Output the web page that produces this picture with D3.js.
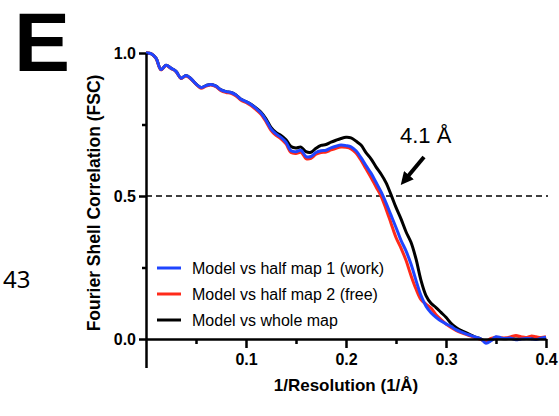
<!DOCTYPE html>
<html>
<head>
<meta charset="utf-8">
<script src="https://cdn.jsdelivr.net/npm/d3@7"></script>
<style>
  body { margin: 0; background: #fff; }
  text { font-family: "Liberation Sans", Arial, sans-serif; }
  .axis path, .axis line { stroke: #000; stroke-width: 2.5; }
  .axis text { font-size: 16px; font-weight: bold; fill: #000; }
</style>
</head>
<body>
<div id="chart"></div>
<script>
// 1/Resolution sample points (1/Å)
let resolution = [0.000,0.005,0.010,0.015,0.020,0.025,0.030,0.035,0.040,0.045,
  0.050,0.055,0.060,0.065,0.070,0.075,0.080,0.085,0.090,0.095,
  0.100,0.105,0.110,0.115,0.120,0.125,0.130,0.135,0.140,0.145,
  0.150,0.155,0.160,0.165,0.170,0.175,0.180,0.185,0.190,0.195,
  0.200,0.205,0.210,0.215,0.220,0.225,0.230,0.235,0.240,0.245,
  0.250,0.255,0.260,0.265,0.270,0.275,0.280,0.285,0.290,0.295,
  0.300,0.305,0.310,0.315,0.320,0.325,0.330,0.335,0.340,0.345,
  0.350,0.355,0.360,0.365,0.370,0.375,0.380,0.385,0.390,0.395,0.400];

// model vs half map 1 (work)
let halfMap1 = [1.000,0.998,0.982,0.942,0.957,0.947,0.936,0.912,0.921,0.910,
  0.892,0.879,0.886,0.890,0.884,0.871,0.865,0.862,0.853,0.838,
  0.830,0.820,0.806,0.790,0.765,0.735,0.717,0.705,0.688,0.658,
  0.655,0.660,0.638,0.638,0.652,0.658,0.660,0.668,0.674,0.678,
  0.676,0.672,0.658,0.634,0.606,0.580,0.548,0.515,0.476,0.433,
  0.390,0.345,0.308,0.262,0.205,0.152,0.115,0.092,0.076,0.063,
  0.053,0.044,0.033,0.025,0.018,0.012,0.006,0.000,-0.015,-0.006,
  0.008,0.004,0.002,0.003,-0.003,0.000,0.002,0.001,-0.002,0.003,0.006];

// model vs half map 2 (free)
let halfMap2 = [1.000,0.998,0.981,0.941,0.956,0.946,0.935,0.911,0.920,0.909,
  0.891,0.877,0.884,0.888,0.882,0.868,0.862,0.859,0.850,0.835,
  0.827,0.816,0.802,0.786,0.760,0.730,0.712,0.700,0.682,0.652,
  0.649,0.653,0.631,0.632,0.646,0.652,0.654,0.661,0.667,0.671,
  0.670,0.665,0.650,0.625,0.595,0.565,0.532,0.500,0.455,0.405,
  0.355,0.318,0.275,0.222,0.175,0.138,0.122,0.108,0.085,0.068,
  0.052,0.040,0.030,0.022,0.016,0.010,0.004,-0.002,-0.008,0.002,
  0.006,0.004,0.004,0.008,0.012,0.008,0.005,0.010,0.008,0.005,0.008];

// model vs whole map
let wholeMap = [1.000,0.998,0.982,0.942,0.957,0.947,0.936,0.912,0.921,0.910,
  0.892,0.879,0.886,0.890,0.884,0.871,0.865,0.862,0.853,0.838,
  0.830,0.821,0.808,0.793,0.770,0.740,0.722,0.712,0.697,0.673,
  0.668,0.671,0.655,0.653,0.667,0.677,0.680,0.688,0.695,0.701,
  0.705,0.703,0.692,0.678,0.652,0.630,0.602,0.577,0.547,0.505,
  0.460,0.420,0.375,0.338,0.280,0.205,0.152,0.125,0.110,0.093,
  0.076,0.055,0.040,0.030,0.022,0.014,0.006,0.000,-0.010,-0.004,
  0.004,0.002,0.001,0.002,0.000,0.002,0.004,0.003,0.001,0.004,0.005];

let seriesNames = ["Model vs half map 1 (work)", "Model vs half map 2 (free)", "Model vs whole map"];
let seriesColors = ["#1f45ff", "#ff2a1a", "#000000"];
let xMajorTicks = [0.1, 0.2, 0.3, 0.4];
let xMinorTicks = [0.05, 0.15, 0.25, 0.35];
let yMajorTicks = [0.0, 0.5, 1.0];
let yMinorTicks = [0.25, 0.75];
let threshold = 0.5;

let width = 559, height = 416;

let svg = d3.select("#chart")
.append("svg")
.attr("width", width)
.attr("height", height);

let x = d3.scaleLinear().domain([0, 0.4]).range([146, 546]);
let y = d3.scaleLinear().domain([-0.1, 1.0]).range([367.6, 53]);

// panel letter
svg.append("text")
.attr("x", 14)
.attr("y", 71)
.style("font-size", "84px")
.style("font-weight", "bold")
.text("E");

// page number
svg.append("text")
.attr("x", 3)
.attr("y", 288)
.style("font-family", "'Noto Sans', 'Open Sans', sans-serif")
.style("font-size", "24px")
.text("43");

// dashed 0.5 line
svg.append("line")
.attr("x1", x(0)).attr("x2", x(0.4) + 2)
.attr("y1", y(threshold)).attr("y2", y(threshold))
.attr("stroke", "#000")
.attr("stroke-width", 1.6)
.attr("stroke-dasharray", "6,4");

// curves (black underneath, blue on top)
let line = d3.line()
.x((d, i) => x(resolution[i]))
.y(d => y(d))
.curve(d3.curveCatmullRom);

let series = [halfMap1, halfMap2, wholeMap];
[2, 1, 0].forEach(k => {
  svg.append("path")
  .attr("d", line(series[k]))
  .attr("fill", "none")
  .attr("stroke", seriesColors[k])
  .attr("stroke-width", 3)
  .attr("stroke-linejoin", "round");
});

// axes
let xAxis = svg.append("g")
.attr("class", "axis")
.attr("transform", "translate(0," + y(0) + ")")
.call(d3.axisBottom(x).tickValues(xMajorTicks).tickSize(9).tickSizeOuter(0).tickPadding(6).tickFormat(d3.format(".1f")));

svg.append("g")
.attr("class", "axis")
.attr("transform", "translate(0," + y(0) + ")")
.call(d3.axisBottom(x).tickValues(xMinorTicks).tickSize(5).tickSizeOuter(0).tickFormat(""))
.select(".domain").remove();

svg.append("g")
.attr("class", "axis")
.attr("transform", "translate(" + x(0) + ",0)")
.call(d3.axisLeft(y).tickValues(yMajorTicks).tickSize(7).tickSizeOuter(0).tickPadding(3).tickFormat(d3.format(".1f")));

svg.append("g")
.attr("class", "axis")
.attr("transform", "translate(" + x(0) + ",0)")
.call(d3.axisLeft(y).tickValues(yMinorTicks).tickSize(4).tickSizeOuter(0).tickFormat(""))
.select(".domain").remove();

// axis titles
svg.append("text")
.attr("x", (x(0) + x(0.4)) / 2)
.attr("y", 391)
.attr("text-anchor", "middle")
.style("font-size", "17px")
.style("font-weight", "bold")
.text("1/Resolution (1/Å)");

svg.append("text")
.attr("transform", "translate(100," + 203 + ") rotate(-90)")
.attr("text-anchor", "middle")
.style("font-size", "17.5px")
.style("font-weight", "bold")
.text("Fourier Shell Correlation (FSC)");

// legend
let legend = svg.append("g")
.selectAll("g")
.data(seriesNames)
.enter().append("g")
.attr("transform", (d, i) => "translate(157," + (268 + i * 26) + ")");

legend.append("line")
.attr("x1", 0).attr("x2", 24)
.attr("stroke", (d, i) => seriesColors[i])
.attr("stroke-width", 3);

legend.append("text")
.attr("x", 35)
.attr("y", 6)
.style("font-size", "16px")
.text(d => d);

// resolution annotation
svg.append("defs").append("marker")
.attr("id", "arrow")
.attr("viewBox", "0 -5 10 10")
.attr("refX", 6)
.attr("refY", 0)
.attr("markerWidth", 3.2)
.attr("markerHeight", 3.2)
.attr("orient", "auto")
.append("path")
.attr("d", "M0,-5L10,0L0,5Z");

svg.append("line")
.attr("x1", 424).attr("y1", 157)
.attr("x2", 404).attr("y2", 181)
.attr("stroke", "#000")
.attr("stroke-width", 4)
.attr("marker-end", "url(#arrow)");

svg.append("text")
.attr("x", 400)
.attr("y", 143)
.style("font-size", "22px")
.text("4.1 Å");
</script>
</body>
</html>
